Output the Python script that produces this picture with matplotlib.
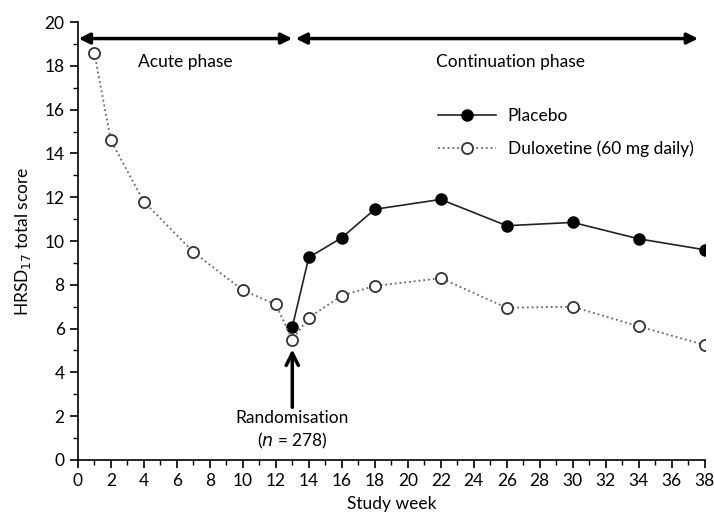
import numpy as np
import matplotlib.pyplot as plt
from matplotlib.ticker import MultipleLocator

plt.rcParams['font.family'] = ['Lato', 'DejaVu Sans']

# data
dul_weeks = [1, 2, 4, 7, 10, 12, 13, 14, 16, 18, 22, 26, 30, 34, 38]
dul_score = [18.6, 14.6, 11.8, 9.5, 7.75, 7.1, 5.5, 6.5, 7.5, 7.95, 8.3, 6.95, 7.0, 6.1, 5.25]
pla_weeks = [13, 14, 16, 18, 22, 26, 30, 34, 38]
pla_score = [6.07, 9.25, 10.15, 11.45, 11.9, 10.7, 10.85, 10.1, 9.6]
rand_week = 13

fig = plt.figure(figsize=(7.14, 5.15), dpi=100)
ax = fig.add_axes([0.109, 0.107, 0.878, 0.85])

ax.plot(pla_weeks, pla_score, '-o', color='#222222', lw=1.2, ms=8,
        mfc='black', mec='black', label='Placebo', zorder=3)
ax.plot(dul_weeks, dul_score, ':o', color='#666666', lw=1.3, ms=8,
        mfc='white', mec='#333333', mew=1.3, label='Duloxetine (60 mg daily)', zorder=4)

# phase arrows
arrow = dict(arrowstyle='<|-|>', color='black', lw=2.5, mutation_scale=16, shrinkA=0, shrinkB=0)
ax.annotate('', xy=(0.05, 19.25), xytext=(13.0, 19.25), arrowprops=arrow)
ax.annotate('', xy=(13.2, 19.25), xytext=(37.6, 19.25), arrowprops=arrow)
ax.text(6.5, 18.2, 'Acute phase', ha='center', va='center', fontsize=12.5)
ax.text(26.2, 18.2, 'Continuation phase', ha='center', va='center', fontsize=12.5)

# randomisation arrow
ax.annotate('', xy=(rand_week, 5.05), xytext=(rand_week, 2.4),
            arrowprops=dict(arrowstyle='->', color='black', lw=2.5, mutation_scale=22,
                            shrinkA=0, shrinkB=0))
ax.text(rand_week, 1.9, 'Randomisation', ha='center', va='center', fontsize=12.5)
ax.text(rand_week, 0.85, '($n$ = 278)', ha='center', va='center', fontsize=12.5)

ax.legend(loc='upper left', bbox_to_anchor=(0.55, 0.84), frameon=False, fontsize=12.5,
          handlelength=3.3, handletextpad=0.7, labelspacing=0.95)

ax.set_xlim(0, 38)
ax.set_ylim(0, 20)
ax.xaxis.set_major_locator(MultipleLocator(2))
ax.xaxis.set_minor_locator(MultipleLocator(1))
ax.yaxis.set_major_locator(MultipleLocator(2))
ax.yaxis.set_minor_locator(MultipleLocator(1))
ax.tick_params(which='major', length=6, width=1.2, labelsize=12.5, direction='out')
ax.tick_params(which='minor', length=3.5, width=1.0, direction='out')
ax.spines['top'].set_visible(False)
ax.spines['right'].set_visible(False)
ax.spines['left'].set_linewidth(1.2)
ax.spines['bottom'].set_linewidth(1.2)
ax.set_xlabel('Study week', fontsize=12.5, labelpad=5)
ax.set_ylabel('HRSD$_{17}$ total score', fontsize=12.5, labelpad=8)

fig.savefig('out.png', dpi=100)
